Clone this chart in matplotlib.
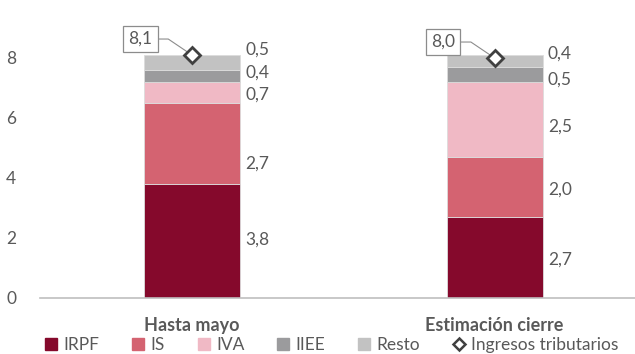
import matplotlib
matplotlib.use("Agg")
import matplotlib.pyplot as plt
from matplotlib.lines import Line2D

plt.rcParams['font.family'] = ['Lato', 'DejaVu Sans']

categories = ["Hasta mayo", "Estimación cierre"]
series_names = ["IRPF", "IS", "IVA", "IIEE", "Resto"]
irpf = [3.8, 2.7]
is_ = [2.7, 2.0]
iva = [0.7, 2.5]
iiee = [0.4, 0.5]
resto = [0.5, 0.4]
total = [8.1, 8.0]
total_name = "Ingresos tributarios"

colors = ["#85092C", "#D46371", "#F0B9C5", "#9B9B9D", "#C2C2C2"]
text_color = "#595959"

# label heights for the segment values (nudged to avoid overlaps)
label_y = [[1.95, 4.48, 6.78, 7.50, 8.27],
           [1.29, 3.61, 5.72, 7.27, 8.13]]

fig = plt.figure(figsize=(6.35, 3.54), dpi=100)
ax = fig.add_axes([40 / 635, 56 / 354, 595 / 635, 270 / 354])

x = [0, 1]
width = 0.317
bottoms = [0.0, 0.0]
stack = [irpf, is_, iva, iiee, resto]
for vals, col, name in zip(stack, colors, series_names):
    ax.bar(x, vals, width, bottom=bottoms, color=col, edgecolor="#dcdcdc",
           linewidth=0.6, label=name, zorder=2)
    bottoms = [b + v for b, v in zip(bottoms, vals)]

# segment value labels
for i in range(2):
    for j, vals in enumerate(stack):
        ax.text(x[i] + width / 2 + 0.018, label_y[i][j],
                f"{vals[i]:.1f}".replace(".", ","), ha="left", va="center",
                fontsize=12.5, color=text_color)

# total markers with callout boxes
ax.plot(x, total, linestyle="none", marker="D", markersize=8,
        markerfacecolor="white", markeredgecolor="#404040",
        markeredgewidth=2, zorder=5, label=total_name)
for i in range(2):
    ax.annotate(f"{total[i]:.1f}".replace(".", ","), xy=(x[i], total[i]),
                xytext=(-37, 11.5), textcoords="offset points",
                ha="center", va="center", fontsize=12.5, color=text_color,
                bbox=dict(boxstyle="square,pad=0.3", fc="white", ec="#8c8c8c", lw=0.9),
                arrowprops=dict(arrowstyle="-", color="#8c8c8c", lw=0.8,
                                shrinkA=0, shrinkB=0,
                                connectionstyle="angle,angleA=0,angleB=146,rad=0"),
                zorder=4, annotation_clip=False)

ax.set_xlim(-0.502, 1.464)
ax.set_ylim(0, 9)
ax.set_yticks([0, 2, 4, 6, 8])
ax.set_xticks(x)
ax.set_xticklabels(categories, fontweight="bold")
ax.tick_params(axis="y", length=0, pad=17, labelsize=12.5, labelcolor=text_color)
ax.tick_params(axis="x", length=0, pad=14, labelsize=13, labelcolor=text_color)
for s in ["top", "right", "left"]:
    ax.spines[s].set_visible(False)
ax.spines["bottom"].set_color("#bfbfbf")
ax.spines["bottom"].set_linewidth(1.2)

handles = [Line2D([], [], linestyle="none", marker="s", markersize=8,
                  markerfacecolor=c, markeredgecolor=c) for c in colors]
handles.append(Line2D([], [], linestyle="none", marker="D", markersize=6.5,
                      markerfacecolor="white", markeredgecolor="#404040",
                      markeredgewidth=1.8))
leg = fig.legend(handles, series_names + [total_name], loc="center",
                 bbox_to_anchor=(332 / 635, 1 - 345 / 354), ncol=6, frameon=False,
                 fontsize=12.5, handlelength=0.7, handletextpad=0.35,
                 columnspacing=1.9, borderaxespad=0, borderpad=0)
for t in leg.get_texts():
    t.set_color(text_color)

fig.savefig("out.png", dpi=100)
